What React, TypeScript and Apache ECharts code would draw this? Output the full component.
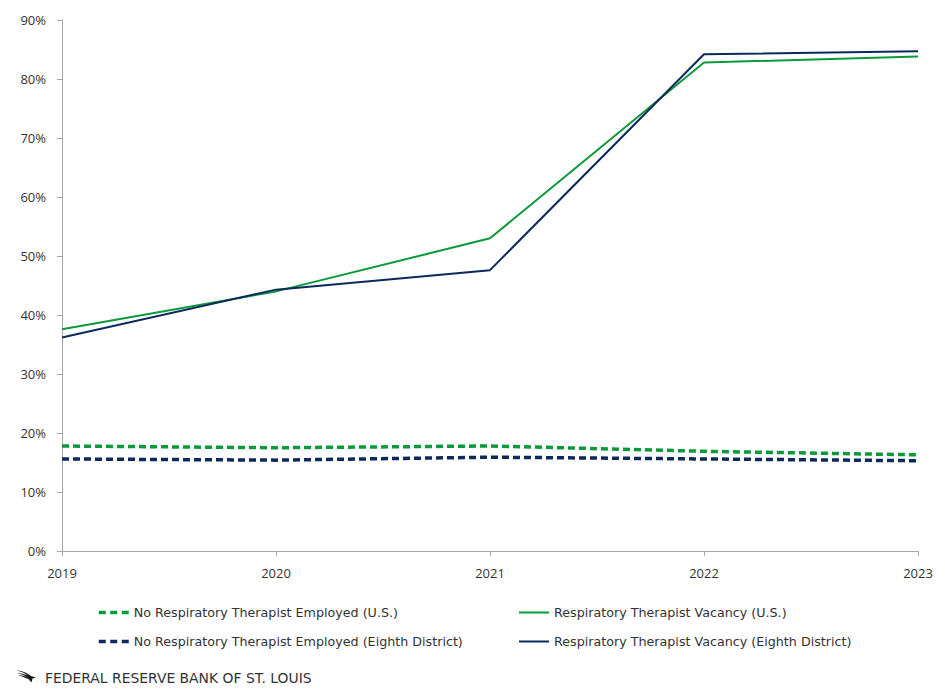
import React, { useEffect, useRef } from "react";
import * as echarts from "echarts";

const years = ["2019", "2020", "2021", "2022", "2023"];
const noRtUS = [17.8, 17.5, 17.8, 16.9, 16.3];
const noRtEighth = [15.6, 15.4, 15.9, 15.6, 15.3];
const vacancyUS = [37.6, 44.0, 53.0, 82.8, 83.8];
const vacancyEighth = [36.2, 44.3, 47.6, 84.2, 84.7];

const NAME_NO_US = "No Respiratory Therapist Employed (U.S.)";
const NAME_NO_E8 = "No Respiratory Therapist Employed (Eighth District)";
const NAME_VAC_US = "Respiratory Therapist Vacancy (U.S.)";
const NAME_VAC_E8 = "Respiratory Therapist Vacancy (Eighth District)";

const GREEN = "#0a9a3a";
const NAVY = "#0b2a5b";
const FONT = "Open Sans";
const LEGEND_FONT = "DejaVu Sans";

const logoPath =
  "M0 0 C6 1 12 3 15 6 L20 7.5 L16.5 8.5 L15.5 12.5 L12.5 9 C8.5 7.5 4.5 6 1.5 5 C5 5.2 8.5 6 11.5 7 C8 5 4 3.8 0.5 3 C4.5 3.2 8.5 4 12 5.2 C8.5 3 4.5 1.5 0 0 Z";

echarts.graphic.registerShape("logo", (echarts.graphic as any).extendPath(logoPath, {}));

export default function App() {
  const ref = useRef<HTMLDivElement>(null);
  useEffect(() => {
    if (!ref.current) return;
    const chart = echarts.init(ref.current, null, { renderer: "svg" });
    const mk = (name: string, data: number[], color: string, dashed: boolean) => ({
      name,
      type: "line",
      data,
      symbol: "none",
      showSymbol: false,
      lineStyle: dashed
        ? { color, width: 3.5, type: [7, 4] }
        : { color, width: 2 },
      itemStyle: { color },
    });
    const legendText = {
      color: "#333",
      fontSize: 12.7,
      fontFamily: LEGEND_FONT,
      padding: [0, 0, 0, 0],
    };
    const legendCommon = {
      orient: "vertical",
      top: 593,
      itemWidth: 30,
      itemHeight: 12,
      itemGap: 16,
      textStyle: legendText,
      selectedMode: false,
      itemStyle: { opacity: 0 },
    };
    const dashedItem = (name: string, color: string) => ({
      name,
      lineStyle: { color, width: 3.5, type: [7, 4.5] },
    });
    const solidItem = (name: string, color: string) => ({
      name,
      lineStyle: { color, width: 2, type: "solid" },
    });
    chart.setOption({
      animation: false,
      textStyle: { fontFamily: FONT },
      grid: { left: 54, right: 19, top: 12, bottom: 141, containLabel: false },
      xAxis: {
        type: "category",
        data: years,
        boundaryGap: false,
        axisLine: { lineStyle: { color: "#a6a6a6", width: 1 } },
        axisTick: { show: true, length: 5, lineStyle: { color: "#a6a6a6" }, alignWithLabel: true },
        axisLabel: { color: "#333", fontSize: 13, fontFamily: FONT, margin: 15 },
        splitLine: { show: false },
      },
      yAxis: {
        type: "value",
        min: 0,
        max: 90,
        interval: 10,
        axisLine: { show: true, lineStyle: { color: "#a6a6a6", width: 1 } },
        axisTick: { show: true, length: 5, lineStyle: { color: "#a6a6a6" } },
        axisLabel: { color: "#333", fontSize: 13, fontFamily: FONT, margin: 16, formatter: "{value}%" },
        splitLine: { show: false },
      },
      legend: [
        {
          ...legendCommon,
          left: 84,
          data: [dashedItem(NAME_NO_US, GREEN), dashedItem(NAME_NO_E8, NAVY)],
        },
        {
          ...legendCommon,
          left: 505,
          data: [solidItem(NAME_VAC_US, GREEN), solidItem(NAME_VAC_E8, NAVY)],
        },
      ],
      graphic: [
        {
          type: "logo",
          x: 8,
          y: 662,
          scaleX: 1,
          scaleY: 1,
          style: { fill: "#1a1a1a" },
        },
        {
          type: "text",
          x: 37,
          y: 663,
          style: {
            text: "FEDERAL RESERVE BANK OF ST. LOUIS",
            fill: "#333",
            fontSize: 13.9,
            fontFamily: "DejaVu Sans",
          },
        },
      ],
      series: [
        mk(NAME_NO_US, noRtUS, GREEN, true),
        mk(NAME_NO_E8, noRtEighth, NAVY, true),
        mk(NAME_VAC_US, vacancyUS, GREEN, false),
        mk(NAME_VAC_E8, vacancyEighth, NAVY, false),
      ],
    });
    return () => chart.dispose();
  }, []);
  return <div ref={ref} style={{ width: 929, height: 684 }} />;
}
